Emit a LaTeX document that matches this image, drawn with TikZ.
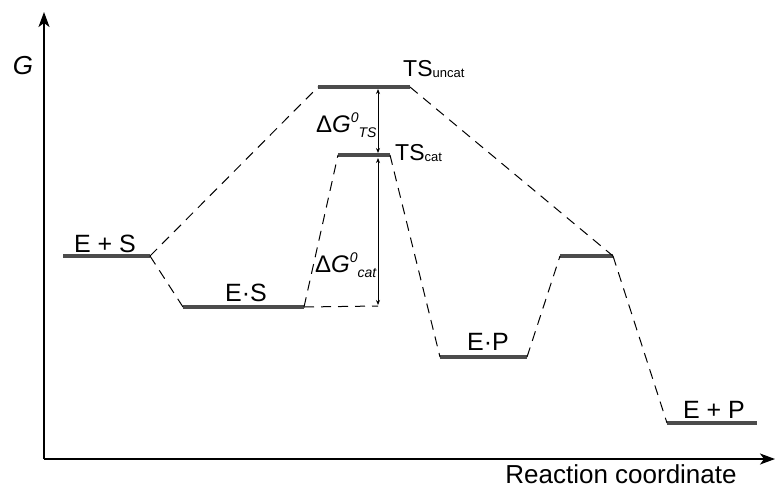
\documentclass[tikz,border=0pt]{standalone}
\usepackage{fontspec}
\setmainfont{Liberation Sans}
\usetikzlibrary{arrows.meta}

% free-energy labels: Delta G with italic superscript 0 and an italic subscript
\newcommand{\dGlabel}[1]{Δ\textit{G}\raisebox{10pt}{\fontsize{14}{14}\selectfont\itshape 0}\raisebox{-5pt}{\fontsize{14}{14}\selectfont\itshape #1}}
\newcommand{\tslabel}[1]{TS\raisebox{-1pt}{\fontsize{13}{13}\selectfont #1}}

\begin{document}
\begin{tikzpicture}[x=1pt,y=-1pt,
  level/.style={line width=3.2pt, draw=black!70},
  link/.style={line width=1pt, dash pattern=on 10pt off 7pt},
  axis/.style={line width=1.6pt, -{Stealth[length=15pt,width=11pt,inset=4pt]}},
  gap/.style={line width=0.9pt, {Stealth[length=5pt,width=4pt]}-{Stealth[length=5pt,width=4pt]}},
  lbl/.style={font=\fontsize{25}{25}\selectfont, inner sep=0pt, anchor=base},
  big/.style={font=\fontsize{26}{26}\selectfont, inner sep=0pt},
]
\useasboundingbox (0,0) rectangle (775,491);

% axes
\coordinate (O) at (44,459);
\coordinate (Ytop) at (44,12);
\coordinate (Xend) at (775,459);
\draw[axis] (O) -- (Ytop);
\draw[axis] (O) -- (Xend);
\node[big, font=\fontsize{26}{26}\selectfont\itshape] (G) at (23,66) {G};
\node[big, anchor=base] (rc) at (621,483) {Reaction coordinate};

% energy levels
\coordinate (ESa) at (63,256);   \coordinate (ESb) at (150,256);
\coordinate (CSa) at (183,307);  \coordinate (CSb) at (304,307);
\coordinate (TUa) at (318,87);   \coordinate (TUb) at (410,87);
\coordinate (TCa) at (338,155);  \coordinate (TCb) at (390,155);
\coordinate (CPa) at (440,357);  \coordinate (CPb) at (527,357);
\coordinate (TPa) at (560,256);  \coordinate (TPb) at (613,256);
\coordinate (EPa) at (667,423);  \coordinate (EPb) at (757,423);
\coordinate (CSref) at (378,306);

\foreach \a/\b in {ESa/ESb, CSa/CSb, TUa/TUb, TCa/TCb, CPa/CPb, TPa/TPb, EPa/EPb}
  \draw[level] (\a) -- (\b);

% reaction paths
\draw[link] (ESb) -- (TUa);
\draw[link] (TUb) -- (TPb);
\draw[link] (ESb) -- (CSa);
\draw[link] (CSb) -- (TCa);
\draw[link] (CSb) -- (CSref);
\draw[link] (TCb) -- (CPa);
\draw[link] (CPb) -- (TPa);
\draw[link] (TPb) -- (EPa);

% energy differences
\coordinate (g1a) at (378,89);   \coordinate (g1b) at (378,153);
\coordinate (g2a) at (378,158);  \coordinate (g2b) at (378,305);
\draw[gap] (g1a) -- (g1b);
\draw[gap] (g2a) -- (g2b);

% labels
\node[lbl] (lES) at (105,252) {E + S};
\node[lbl] (lCS) at (246,301) {E·S};
\node[lbl] (lCP) at (488,350) {E·P};
\node[lbl] (lEP) at (714,418) {E + P};
\node[lbl, anchor=base west, font=\fontsize{23}{23}\selectfont] (lTU) at (403,76) {\tslabel{uncat}};
\node[lbl, anchor=base west, font=\fontsize{23}{23}\selectfont] (lTC) at (395,160) {\tslabel{cat}};
\node[lbl, anchor=base west, font=\fontsize{24}{24}\selectfont] (lgTS) at (316,132) {\dGlabel{TS}};
\node[lbl, anchor=base west, font=\fontsize{24}{24}\selectfont] (lgcat) at (315,272) {\dGlabel{cat}};
\end{tikzpicture}
\end{document}
